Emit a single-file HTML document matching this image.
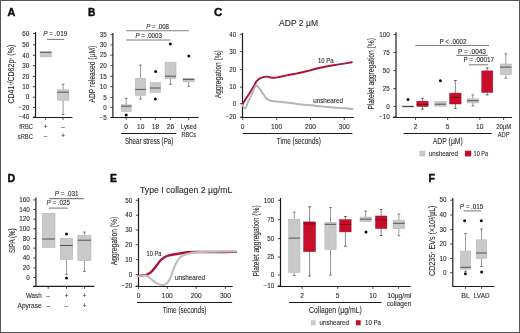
<!DOCTYPE html>
<html><head><meta charset="utf-8"><style>
html,body{margin:0;padding:0;background:#fff;}
body{width:520px;height:333px;overflow:hidden;}
svg{display:block;will-change:transform;font-family:"Liberation Sans",sans-serif;fill:#2a2a2a;}
text{stroke:#2a2a2a;stroke-width:0.1px;}
text[font-weight=bold]{stroke:#111;stroke-width:0.45px;}
</style></head><body>
<svg width="520" height="333" viewBox="0 0 520 333">
<defs><filter id="bl" x="0" y="0" width="1" height="1"><feGaussianBlur stdDeviation="0.35"/></filter></defs>
<rect x="0" y="0" width="520" height="333" fill="#fff"/>
<g filter="url(#bl)">
<text x="7.4" y="15.87" font-size="10.2" textLength="7.8" lengthAdjust="spacingAndGlyphs" font-weight="bold" fill="#111">A</text>
<text transform="translate(10.9,74.15) rotate(-90)" x="-29.45" y="2.9" font-size="8.8" textLength="58.9" lengthAdjust="spacingAndGlyphs">CD41<tspan baseline-shift="super" font-size="4.5">+</tspan>/CD62p<tspan baseline-shift="super" font-size="4.5">+</tspan> (%)</text>
<line x1="35.5" y1="32" x2="35.5" y2="117.6" stroke="#1e1e1e" stroke-width="1.2"/>
<line x1="32.9" y1="33.5" x2="35.5" y2="33.5" stroke="#1e1e1e" stroke-width="0.8"/>
<text x="29.3" y="35.77" font-size="6.3" text-anchor="end">60</text>
<line x1="32.9" y1="44.8" x2="35.5" y2="44.8" stroke="#1e1e1e" stroke-width="0.8"/>
<text x="29.3" y="47.07" font-size="6.3" text-anchor="end">50</text>
<line x1="32.9" y1="55.3" x2="35.5" y2="55.3" stroke="#1e1e1e" stroke-width="0.8"/>
<text x="29.3" y="57.57" font-size="6.3" text-anchor="end">40</text>
<line x1="32.9" y1="65.7" x2="35.5" y2="65.7" stroke="#1e1e1e" stroke-width="0.8"/>
<text x="29.3" y="67.97" font-size="6.3" text-anchor="end">30</text>
<line x1="32.9" y1="76.4" x2="35.5" y2="76.4" stroke="#1e1e1e" stroke-width="0.8"/>
<text x="29.3" y="78.67" font-size="6.3" text-anchor="end">20</text>
<line x1="32.9" y1="86.7" x2="35.5" y2="86.7" stroke="#1e1e1e" stroke-width="0.8"/>
<text x="29.3" y="88.97" font-size="6.3" text-anchor="end">10</text>
<line x1="32.9" y1="97.2" x2="35.5" y2="97.2" stroke="#1e1e1e" stroke-width="0.8"/>
<text x="29.3" y="99.47" font-size="6.3" text-anchor="end">0</text>
<line x1="32.9" y1="107.4" x2="35.5" y2="107.4" stroke="#1e1e1e" stroke-width="0.8"/>
<text x="29.3" y="109.67" font-size="6.3" text-anchor="end">−20</text>
<line x1="32.9" y1="117" x2="35.5" y2="117" stroke="#1e1e1e" stroke-width="0.8"/>
<text x="29.3" y="119.27" font-size="6.3" text-anchor="end">−40</text>
<line x1="33" y1="117.5" x2="72.5" y2="117.5" stroke="#1e1e1e" stroke-width="1.2"/>
<line x1="45.6" y1="117.5" x2="45.6" y2="119.9" stroke="#1e1e1e" stroke-width="0.8"/>
<line x1="63" y1="117.5" x2="63" y2="119.9" stroke="#1e1e1e" stroke-width="0.8"/>
<rect x="40.1" y="51.6" width="11.3" height="5.3" fill="#c9c9c9" stroke="#b0b0b0" stroke-width="0.5"/>
<line x1="40.1" y1="52.3" x2="51.4" y2="52.3" stroke="#3c3c3c" stroke-width="0.85"/>
<line x1="63.1" y1="84.3" x2="63.1" y2="89.8" stroke="#555555" stroke-width="0.6"/>
<line x1="61.8" y1="84.3" x2="64.4" y2="84.3" stroke="#555555" stroke-width="0.8"/>
<line x1="63.1" y1="100.2" x2="63.1" y2="114.5" stroke="#555555" stroke-width="0.6"/>
<line x1="61.8" y1="114.5" x2="64.4" y2="114.5" stroke="#555555" stroke-width="0.8"/>
<rect x="57.3" y="89.8" width="11.6" height="10.4" fill="#c9c9c9" stroke="#b0b0b0" stroke-width="0.5"/>
<line x1="57.3" y1="92.2" x2="68.9" y2="92.2" stroke="#3c3c3c" stroke-width="0.85"/>
<text x="43.3" y="36.47" font-size="6.3" textLength="24" lengthAdjust="spacingAndGlyphs"><tspan font-style="italic">P</tspan> = .019</text>
<line x1="47" y1="39.4" x2="64.2" y2="39.4" stroke="#808080" stroke-width="1.1"/>
<text x="19.2" y="129.18" font-size="6.6" textLength="13.7" lengthAdjust="spacingAndGlyphs">fRBC</text>
<text x="17.8" y="138.58" font-size="6.6" textLength="15.1" lengthAdjust="spacingAndGlyphs">sRBC</text>
<text x="45.6" y="129.07" font-size="6.3" text-anchor="middle">+</text>
<text x="63" y="129.07" font-size="6.3" text-anchor="middle">–</text>
<text x="45.6" y="138.47" font-size="6.3" text-anchor="middle">–</text>
<text x="63" y="138.47" font-size="6.3" text-anchor="middle">+</text>
<text x="87.9" y="16.27" font-size="10.2" textLength="7.3" lengthAdjust="spacingAndGlyphs" font-weight="bold" fill="#111">B</text>
<text transform="translate(91.7,74.15) rotate(-90)" x="-28.35" y="2.9" font-size="8.8" textLength="56.7" lengthAdjust="spacingAndGlyphs">ADP released (µM)</text>
<line x1="112.9" y1="33" x2="112.9" y2="118" stroke="#1e1e1e" stroke-width="1.2"/>
<line x1="110.3" y1="34.8" x2="112.9" y2="34.8" stroke="#1e1e1e" stroke-width="0.8"/>
<text x="106.7" y="37.07" font-size="6.3" text-anchor="end">35</text>
<line x1="110.3" y1="44.9" x2="112.9" y2="44.9" stroke="#1e1e1e" stroke-width="0.8"/>
<text x="106.7" y="47.17" font-size="6.3" text-anchor="end">30</text>
<line x1="110.3" y1="55.2" x2="112.9" y2="55.2" stroke="#1e1e1e" stroke-width="0.8"/>
<text x="106.7" y="57.47" font-size="6.3" text-anchor="end">25</text>
<line x1="110.3" y1="65.6" x2="112.9" y2="65.6" stroke="#1e1e1e" stroke-width="0.8"/>
<text x="106.7" y="67.87" font-size="6.3" text-anchor="end">20</text>
<line x1="110.3" y1="76.3" x2="112.9" y2="76.3" stroke="#1e1e1e" stroke-width="0.8"/>
<text x="106.7" y="78.57" font-size="6.3" text-anchor="end">15</text>
<line x1="110.3" y1="86.7" x2="112.9" y2="86.7" stroke="#1e1e1e" stroke-width="0.8"/>
<text x="106.7" y="88.97" font-size="6.3" text-anchor="end">10</text>
<line x1="110.3" y1="97.5" x2="112.9" y2="97.5" stroke="#1e1e1e" stroke-width="0.8"/>
<text x="106.7" y="99.77" font-size="6.3" text-anchor="end">5</text>
<line x1="110.3" y1="107.4" x2="112.9" y2="107.4" stroke="#1e1e1e" stroke-width="0.8"/>
<text x="106.7" y="109.67" font-size="6.3" text-anchor="end">0</text>
<line x1="110.3" y1="117.5" x2="112.9" y2="117.5" stroke="#1e1e1e" stroke-width="0.8"/>
<text x="106.7" y="119.77" font-size="6.3" text-anchor="end">−5</text>
<line x1="110.5" y1="117.5" x2="198.6" y2="117.5" stroke="#1e1e1e" stroke-width="1.2"/>
<line x1="126.2" y1="117.5" x2="126.2" y2="119.9" stroke="#1e1e1e" stroke-width="0.8"/>
<line x1="140.7" y1="117.5" x2="140.7" y2="119.9" stroke="#1e1e1e" stroke-width="0.8"/>
<line x1="155.4" y1="117.5" x2="155.4" y2="119.9" stroke="#1e1e1e" stroke-width="0.8"/>
<line x1="170.4" y1="117.5" x2="170.4" y2="119.9" stroke="#1e1e1e" stroke-width="0.8"/>
<line x1="188.7" y1="117.5" x2="188.7" y2="119.9" stroke="#1e1e1e" stroke-width="0.8"/>
<line x1="126.2" y1="98.3" x2="126.2" y2="104.8" stroke="#555555" stroke-width="0.6"/>
<line x1="124.9" y1="98.3" x2="127.5" y2="98.3" stroke="#555555" stroke-width="0.8"/>
<rect x="121.15" y="104.8" width="10.1" height="6.7" fill="#c9c9c9" stroke="#b0b0b0" stroke-width="0.5"/>
<line x1="121.15" y1="106.2" x2="131.25" y2="106.2" stroke="#3c3c3c" stroke-width="0.85"/>
<circle cx="126.2" cy="115" r="1.5" fill="#111"/>
<line x1="140.5" y1="65.1" x2="140.5" y2="78.3" stroke="#555555" stroke-width="0.6"/>
<line x1="139.2" y1="65.1" x2="141.8" y2="65.1" stroke="#555555" stroke-width="0.8"/>
<line x1="140.5" y1="95.4" x2="140.5" y2="99" stroke="#555555" stroke-width="0.6"/>
<line x1="139.2" y1="99" x2="141.8" y2="99" stroke="#555555" stroke-width="0.8"/>
<rect x="135.3" y="78.3" width="10.4" height="17.1" fill="#c9c9c9" stroke="#b0b0b0" stroke-width="0.5"/>
<line x1="135.3" y1="89.4" x2="145.7" y2="89.4" stroke="#3c3c3c" stroke-width="0.85"/>
<rect x="150" y="82.6" width="10.6" height="9.7" fill="#c9c9c9" stroke="#b0b0b0" stroke-width="0.5"/>
<line x1="150" y1="88" x2="160.6" y2="88" stroke="#3c3c3c" stroke-width="0.85"/>
<circle cx="155.6" cy="71.6" r="1.5" fill="#111"/>
<circle cx="155.3" cy="99" r="1.5" fill="#111"/>
<line x1="170.5" y1="78.6" x2="170.5" y2="84.3" stroke="#555555" stroke-width="0.6"/>
<line x1="169.2" y1="84.3" x2="171.8" y2="84.3" stroke="#555555" stroke-width="0.8"/>
<rect x="165" y="62.2" width="11" height="16.4" fill="#c9c9c9" stroke="#b0b0b0" stroke-width="0.5"/>
<line x1="165" y1="76.2" x2="176" y2="76.2" stroke="#3c3c3c" stroke-width="0.85"/>
<circle cx="170.3" cy="43.9" r="1.5" fill="#111"/>
<line x1="188.6" y1="81.9" x2="188.6" y2="86.3" stroke="#555555" stroke-width="0.6"/>
<line x1="187.3" y1="86.3" x2="189.9" y2="86.3" stroke="#555555" stroke-width="0.8"/>
<rect x="183" y="78.3" width="11.2" height="3.6" fill="#c9c9c9" stroke="#b0b0b0" stroke-width="0.5"/>
<line x1="183" y1="79.4" x2="194.2" y2="79.4" stroke="#3c3c3c" stroke-width="0.85"/>
<circle cx="188.8" cy="55.9" r="1.5" fill="#111"/>
<text x="146.2" y="28.67" font-size="6.3" textLength="22.8" lengthAdjust="spacingAndGlyphs"><tspan font-style="italic">P</tspan> = .008</text>
<line x1="126.3" y1="30.7" x2="188.8" y2="30.7" stroke="#808080" stroke-width="1.1"/>
<text x="135.4" y="37.87" font-size="6.3" textLength="26.4" lengthAdjust="spacingAndGlyphs"><tspan font-style="italic">P</tspan> = .0003</text>
<line x1="126.3" y1="40" x2="170.3" y2="40" stroke="#808080" stroke-width="1.1"/>
<text x="126.2" y="128.88" font-size="6.6" text-anchor="middle">0</text>
<text x="140.7" y="128.88" font-size="6.6" text-anchor="middle">10</text>
<text x="155.4" y="128.88" font-size="6.6" text-anchor="middle">18</text>
<text x="170.4" y="128.88" font-size="6.6" text-anchor="middle">26</text>
<text x="180.8" y="128.88" font-size="6.6" textLength="15.7" lengthAdjust="spacingAndGlyphs">Lysed</text>
<text x="181.5" y="136.88" font-size="6.6" textLength="14.5" lengthAdjust="spacingAndGlyphs">RBCs</text>
<line x1="121" y1="133.5" x2="176.4" y2="133.5" stroke="#1e1e1e" stroke-width="1"/>
<text x="124.9" y="144.24" font-size="9" textLength="48.5" lengthAdjust="spacingAndGlyphs">Shear stress (Pa)</text>
<text x="214.1" y="16.37" font-size="10.2" textLength="8.2" lengthAdjust="spacingAndGlyphs" font-weight="bold" fill="#111">C</text>
<text x="279.1" y="26.35" font-size="8.2" textLength="38.9" lengthAdjust="spacingAndGlyphs">ADP 2 µM</text>
<text transform="translate(218.5,74.2) rotate(-90)" x="-24" y="2.9" font-size="8.8" textLength="48" lengthAdjust="spacingAndGlyphs">Aggregation (%)</text>
<line x1="242.5" y1="33" x2="242.5" y2="117.6" stroke="#1e1e1e" stroke-width="1.2"/>
<line x1="239.9" y1="34.3" x2="242.5" y2="34.3" stroke="#1e1e1e" stroke-width="0.8"/>
<text x="236.3" y="36.57" font-size="6.3" text-anchor="end">40</text>
<line x1="239.9" y1="51.6" x2="242.5" y2="51.6" stroke="#1e1e1e" stroke-width="0.8"/>
<text x="236.3" y="53.87" font-size="6.3" text-anchor="end">30</text>
<line x1="239.9" y1="69.6" x2="242.5" y2="69.6" stroke="#1e1e1e" stroke-width="0.8"/>
<text x="236.3" y="71.87" font-size="6.3" text-anchor="end">20</text>
<line x1="239.9" y1="87.1" x2="242.5" y2="87.1" stroke="#1e1e1e" stroke-width="0.8"/>
<text x="236.3" y="89.37" font-size="6.3" text-anchor="end">10</text>
<line x1="239.9" y1="103.6" x2="242.5" y2="103.6" stroke="#1e1e1e" stroke-width="0.8"/>
<text x="236.3" y="105.87" font-size="6.3" text-anchor="end">0</text>
<line x1="239.9" y1="117.2" x2="242.5" y2="117.2" stroke="#1e1e1e" stroke-width="0.8"/>
<text x="236.3" y="119.47" font-size="6.3" text-anchor="end">−20</text>
<line x1="240.5" y1="117.5" x2="353.8" y2="117.5" stroke="#1e1e1e" stroke-width="1.2"/>
<line x1="242.7" y1="117.5" x2="242.7" y2="119.9" stroke="#1e1e1e" stroke-width="0.8"/>
<line x1="276.6" y1="117.5" x2="276.6" y2="119.9" stroke="#1e1e1e" stroke-width="0.8"/>
<line x1="310.5" y1="117.5" x2="310.5" y2="119.9" stroke="#1e1e1e" stroke-width="0.8"/>
<line x1="344.3" y1="117.5" x2="344.3" y2="119.9" stroke="#1e1e1e" stroke-width="0.8"/>
<text x="242.7" y="128.58" font-size="6.6" text-anchor="middle">0</text>
<text x="276.6" y="128.58" font-size="6.6" text-anchor="middle">100</text>
<text x="310.5" y="128.58" font-size="6.6" text-anchor="middle">200</text>
<text x="344.3" y="128.58" font-size="6.6" text-anchor="middle">300</text>
<line x1="242.7" y1="133.5" x2="352.4" y2="133.5" stroke="#1e1e1e" stroke-width="1"/>
<text x="276.8" y="143.84" font-size="9" textLength="44" lengthAdjust="spacingAndGlyphs">Time (seconds)</text>
<path d="M242.6 104.2 C243.17 103.25 244.82 100.37 246 98.5 C247.18 96.63 248.43 94.98 249.7 93 C250.97 91.02 252.45 88.57 253.6 86.6 C254.75 84.63 255.45 82.62 256.6 81.2 C257.75 79.78 258.93 78.87 260.5 78.1 C262.07 77.33 264.47 76.73 266 76.6 C267.53 76.47 268.33 77.1 269.7 77.3 C271.07 77.5 272.48 77.88 274.2 77.8 C275.92 77.72 277.9 77.2 280 76.8 C282.1 76.4 284.47 75.87 286.8 75.4 C289.13 74.93 291.8 74.43 294 74 C296.2 73.57 297.33 73.42 300 72.8 C302.67 72.18 306.67 71.13 310 70.3 C313.33 69.47 315.83 68.68 320 67.8 C324.17 66.92 329.7 65.92 335 65 C340.3 64.08 349 62.75 351.8 62.3" fill="none" stroke="#ab1238" stroke-width="1.9" stroke-linejoin="round" stroke-linecap="round"/>
<path d="M242.6 105.3 C243.07 105.82 244.47 109.02 245.4 108.4 C246.33 107.78 247.22 103.77 248.2 101.6 C249.18 99.43 250.33 97.5 251.3 95.4 C252.27 93.3 253.18 90.68 254 89 C254.82 87.32 255.53 85.7 256.2 85.3 C256.87 84.9 257.33 85.92 258 86.6 C258.67 87.28 259.32 88.15 260.2 89.4 C261.08 90.65 262.27 92.6 263.3 94.1 C264.33 95.6 265.23 97.33 266.4 98.4 C267.57 99.47 268.87 100.02 270.3 100.5 C271.73 100.98 273.38 101.08 275 101.3 C276.62 101.52 275.83 101.3 280 101.8 C284.17 102.3 293.33 103.55 300 104.3 C306.67 105.05 313.33 105.67 320 106.3 C326.67 106.93 334.6 107.65 340 108.1 C345.4 108.55 350.33 108.85 352.4 109" fill="none" stroke="#b6b6b6" stroke-width="2" stroke-linejoin="round" stroke-linecap="round"/>
<text x="318" y="62.67" font-size="6.3" textLength="15.6" lengthAdjust="spacingAndGlyphs">10 Pa</text>
<text x="313.2" y="102.88" font-size="6.6" textLength="29.8" lengthAdjust="spacingAndGlyphs">unsheared</text>
<text transform="translate(370.8,73.85) rotate(-90)" x="-35.75" y="2.9" font-size="8.8" textLength="71.5" lengthAdjust="spacingAndGlyphs">Platelet aggregation (%)</text>
<line x1="396" y1="32.3" x2="396" y2="117.6" stroke="#1e1e1e" stroke-width="1.2"/>
<line x1="393.4" y1="34.6" x2="396" y2="34.6" stroke="#1e1e1e" stroke-width="0.8"/>
<text x="389.8" y="36.87" font-size="6.3" text-anchor="end">100</text>
<line x1="393.4" y1="52.5" x2="396" y2="52.5" stroke="#1e1e1e" stroke-width="0.8"/>
<text x="389.8" y="54.77" font-size="6.3" text-anchor="end">75</text>
<line x1="393.4" y1="70.6" x2="396" y2="70.6" stroke="#1e1e1e" stroke-width="0.8"/>
<text x="389.8" y="72.87" font-size="6.3" text-anchor="end">50</text>
<line x1="393.4" y1="88.6" x2="396" y2="88.6" stroke="#1e1e1e" stroke-width="0.8"/>
<text x="389.8" y="90.87" font-size="6.3" text-anchor="end">25</text>
<line x1="393.4" y1="106.4" x2="396" y2="106.4" stroke="#1e1e1e" stroke-width="0.8"/>
<text x="389.8" y="108.67" font-size="6.3" text-anchor="end">0</text>
<line x1="393.4" y1="117" x2="396" y2="117" stroke="#1e1e1e" stroke-width="0.8"/>
<text x="389.8" y="119.27" font-size="6.3" text-anchor="end">−10</text>
<line x1="393" y1="117.5" x2="512" y2="117.5" stroke="#1e1e1e" stroke-width="1.2"/>
<line x1="415.5" y1="117.5" x2="415.5" y2="119.9" stroke="#1e1e1e" stroke-width="0.8"/>
<line x1="447.6" y1="117.5" x2="447.6" y2="119.9" stroke="#1e1e1e" stroke-width="0.8"/>
<line x1="479.8" y1="117.5" x2="479.8" y2="119.9" stroke="#1e1e1e" stroke-width="0.8"/>
<line x1="503.6" y1="117.5" x2="503.6" y2="119.9" stroke="#1e1e1e" stroke-width="0.8"/>
<rect x="402.35" y="105.8" width="11.3" height="1.4" fill="#c9c9c9" stroke="#b0b0b0" stroke-width="0.5"/>
<line x1="402.35" y1="106.5" x2="413.65" y2="106.5" stroke="#3c3c3c" stroke-width="0.85"/>
<circle cx="408" cy="99.5" r="1.5" fill="#111"/>
<line x1="422.5" y1="98.3" x2="422.5" y2="101.2" stroke="#4a3035" stroke-width="0.6"/>
<line x1="421.2" y1="98.3" x2="423.8" y2="98.3" stroke="#4a3035" stroke-width="0.8"/>
<line x1="422.5" y1="106.5" x2="422.5" y2="109.2" stroke="#4a3035" stroke-width="0.6"/>
<line x1="421.2" y1="109.2" x2="423.8" y2="109.2" stroke="#4a3035" stroke-width="0.8"/>
<rect x="416.85" y="101.2" width="11.3" height="5.3" fill="#c70a2c" stroke="#9c0b25" stroke-width="0.5"/>
<line x1="416.85" y1="104.5" x2="428.15" y2="104.5" stroke="#5a0a18" stroke-width="0.85"/>
<rect x="434.8" y="101.5" width="11.2" height="4.7" fill="#c9c9c9" stroke="#b0b0b0" stroke-width="0.5"/>
<line x1="434.8" y1="104.2" x2="446" y2="104.2" stroke="#3c3c3c" stroke-width="0.85"/>
<circle cx="440.4" cy="80.7" r="1.5" fill="#111"/>
<line x1="455.4" y1="80.5" x2="455.4" y2="93.1" stroke="#4a3035" stroke-width="0.6"/>
<line x1="454.1" y1="80.5" x2="456.7" y2="80.5" stroke="#4a3035" stroke-width="0.8"/>
<line x1="455.4" y1="104" x2="455.4" y2="108.4" stroke="#4a3035" stroke-width="0.6"/>
<line x1="454.1" y1="108.4" x2="456.7" y2="108.4" stroke="#4a3035" stroke-width="0.8"/>
<rect x="449.75" y="93.1" width="11.3" height="10.9" fill="#c70a2c" stroke="#9c0b25" stroke-width="0.5"/>
<line x1="449.75" y1="97.4" x2="461.05" y2="97.4" stroke="#5a0a18" stroke-width="0.85"/>
<line x1="472.8" y1="94.9" x2="472.8" y2="98.8" stroke="#555555" stroke-width="0.6"/>
<line x1="471.5" y1="94.9" x2="474.1" y2="94.9" stroke="#555555" stroke-width="0.8"/>
<line x1="472.8" y1="102.9" x2="472.8" y2="105.8" stroke="#555555" stroke-width="0.6"/>
<line x1="471.5" y1="105.8" x2="474.1" y2="105.8" stroke="#555555" stroke-width="0.8"/>
<rect x="467.05" y="98.8" width="11.5" height="4.1" fill="#c9c9c9" stroke="#b0b0b0" stroke-width="0.5"/>
<line x1="467.05" y1="100.7" x2="478.55" y2="100.7" stroke="#3c3c3c" stroke-width="0.85"/>
<line x1="487.3" y1="67.8" x2="487.3" y2="70.9" stroke="#4a3035" stroke-width="0.6"/>
<line x1="486" y1="67.8" x2="488.6" y2="67.8" stroke="#4a3035" stroke-width="0.8"/>
<line x1="487.3" y1="92.4" x2="487.3" y2="95" stroke="#4a3035" stroke-width="0.6"/>
<line x1="486" y1="95" x2="488.6" y2="95" stroke="#4a3035" stroke-width="0.8"/>
<rect x="481.8" y="70.9" width="11" height="21.5" fill="#c70a2c" stroke="#9c0b25" stroke-width="0.5"/>
<line x1="505.8" y1="53.8" x2="505.8" y2="64" stroke="#555555" stroke-width="0.6"/>
<line x1="504.5" y1="53.8" x2="507.1" y2="53.8" stroke="#555555" stroke-width="0.8"/>
<line x1="505.8" y1="74.5" x2="505.8" y2="78.2" stroke="#555555" stroke-width="0.6"/>
<line x1="504.5" y1="78.2" x2="507.1" y2="78.2" stroke="#555555" stroke-width="0.8"/>
<rect x="500.2" y="64" width="11.2" height="10.5" fill="#c9c9c9" stroke="#b0b0b0" stroke-width="0.5"/>
<line x1="500.2" y1="67.1" x2="511.4" y2="67.1" stroke="#3c3c3c" stroke-width="0.85"/>
<text x="439.4" y="43.77" font-size="6.3" textLength="27.2" lengthAdjust="spacingAndGlyphs"><tspan>P</tspan> &lt; .0002</text>
<line x1="415.3" y1="45.5" x2="489" y2="45.5" stroke="#808080" stroke-width="1.1"/>
<text x="458.1" y="53.57" font-size="6.3" textLength="27.9" lengthAdjust="spacingAndGlyphs"><tspan>P</tspan> = .0043</text>
<line x1="456.3" y1="55.4" x2="487.8" y2="55.4" stroke="#808080" stroke-width="1.1"/>
<text x="463.5" y="62.47" font-size="6.3" textLength="30.6" lengthAdjust="spacingAndGlyphs"><tspan>P</tspan> = .00017</text>
<line x1="468.8" y1="64.8" x2="488.2" y2="64.8" stroke="#808080" stroke-width="1.1"/>
<text x="415.5" y="128.58" font-size="6.6" text-anchor="middle">2</text>
<text x="447.6" y="128.58" font-size="6.6" text-anchor="middle">5</text>
<text x="479.7" y="128.58" font-size="6.6" text-anchor="middle">10</text>
<text x="496.2" y="128.58" font-size="6.6" textLength="15" lengthAdjust="spacingAndGlyphs">20µM</text>
<text x="497.8" y="136.78" font-size="6.6" textLength="11.8" lengthAdjust="spacingAndGlyphs">ADP</text>
<line x1="403.5" y1="133.5" x2="491.6" y2="133.5" stroke="#1e1e1e" stroke-width="1"/>
<text x="432.8" y="144.44" font-size="9" textLength="30" lengthAdjust="spacingAndGlyphs">ADP (µM)</text>
<rect x="419.4" y="150.7" width="5.9" height="5.7" fill="#c9c9c9"/>
<text x="428.8" y="155.68" font-size="6.6" textLength="29.1" lengthAdjust="spacingAndGlyphs">unsheared</text>
<rect x="465" y="150.7" width="6.2" height="5.7" fill="#c70a2c"/>
<text x="473.6" y="155.68" font-size="6.6" textLength="14.4" lengthAdjust="spacingAndGlyphs">10 Pa</text>
<text x="7.6" y="181.67" font-size="10.2" textLength="7.7" lengthAdjust="spacingAndGlyphs" font-weight="bold" fill="#111">D</text>
<text transform="translate(11.9,240.7) rotate(-90)" x="-12.3" y="2.9" font-size="8.8" textLength="24.6" lengthAdjust="spacingAndGlyphs">SIPA (%)</text>
<line x1="35.9" y1="197.5" x2="35.9" y2="286.6" stroke="#1e1e1e" stroke-width="1.2"/>
<line x1="33.3" y1="199.9" x2="35.9" y2="199.9" stroke="#1e1e1e" stroke-width="0.8"/>
<text x="29.7" y="202.17" font-size="6.3" text-anchor="end">160</text>
<line x1="33.3" y1="209.5" x2="35.9" y2="209.5" stroke="#1e1e1e" stroke-width="0.8"/>
<text x="29.7" y="211.77" font-size="6.3" text-anchor="end">140</text>
<line x1="33.3" y1="219.2" x2="35.9" y2="219.2" stroke="#1e1e1e" stroke-width="0.8"/>
<text x="29.7" y="221.47" font-size="6.3" text-anchor="end">120</text>
<line x1="33.3" y1="228.7" x2="35.9" y2="228.7" stroke="#1e1e1e" stroke-width="0.8"/>
<text x="29.7" y="230.97" font-size="6.3" text-anchor="end">100</text>
<line x1="33.3" y1="238.6" x2="35.9" y2="238.6" stroke="#1e1e1e" stroke-width="0.8"/>
<text x="29.7" y="240.87" font-size="6.3" text-anchor="end">80</text>
<line x1="33.3" y1="248.1" x2="35.9" y2="248.1" stroke="#1e1e1e" stroke-width="0.8"/>
<text x="29.7" y="250.37" font-size="6.3" text-anchor="end">60</text>
<line x1="33.3" y1="258" x2="35.9" y2="258" stroke="#1e1e1e" stroke-width="0.8"/>
<text x="29.7" y="260.27" font-size="6.3" text-anchor="end">40</text>
<line x1="33.3" y1="267.9" x2="35.9" y2="267.9" stroke="#1e1e1e" stroke-width="0.8"/>
<text x="29.7" y="270.17" font-size="6.3" text-anchor="end">20</text>
<line x1="33.3" y1="277.5" x2="35.9" y2="277.5" stroke="#1e1e1e" stroke-width="0.8"/>
<text x="29.7" y="279.77" font-size="6.3" text-anchor="end">0</text>
<line x1="33" y1="286.4" x2="94.3" y2="286.4" stroke="#1e1e1e" stroke-width="1.2"/>
<line x1="48.2" y1="286.4" x2="48.2" y2="288.8" stroke="#1e1e1e" stroke-width="0.8"/>
<line x1="66.5" y1="286.4" x2="66.5" y2="288.8" stroke="#1e1e1e" stroke-width="0.8"/>
<line x1="84.6" y1="286.4" x2="84.6" y2="288.8" stroke="#1e1e1e" stroke-width="0.8"/>
<rect x="42.2" y="213.2" width="12.8" height="34.4" fill="#c9c9c9" stroke="#b0b0b0" stroke-width="0.5"/>
<line x1="42.2" y1="239" x2="55" y2="239" stroke="#3c3c3c" stroke-width="0.85"/>
<line x1="66.5" y1="259.5" x2="66.5" y2="274.4" stroke="#555555" stroke-width="0.6"/>
<line x1="65.2" y1="274.4" x2="67.8" y2="274.4" stroke="#555555" stroke-width="0.8"/>
<rect x="60.25" y="238.2" width="12.5" height="21.3" fill="#c9c9c9" stroke="#b0b0b0" stroke-width="0.5"/>
<line x1="60.25" y1="245.5" x2="72.75" y2="245.5" stroke="#3c3c3c" stroke-width="0.85"/>
<circle cx="66.5" cy="234" r="1.5" fill="#111"/>
<circle cx="66.5" cy="278.1" r="1.5" fill="#111"/>
<line x1="84.4" y1="232.1" x2="84.4" y2="235.4" stroke="#555555" stroke-width="0.6"/>
<line x1="83.1" y1="232.1" x2="85.7" y2="232.1" stroke="#555555" stroke-width="0.8"/>
<line x1="84.4" y1="260.5" x2="84.4" y2="271.4" stroke="#555555" stroke-width="0.6"/>
<line x1="83.1" y1="271.4" x2="85.7" y2="271.4" stroke="#555555" stroke-width="0.8"/>
<rect x="77.8" y="235.4" width="13.2" height="25.1" fill="#c9c9c9" stroke="#b0b0b0" stroke-width="0.5"/>
<line x1="77.8" y1="240.2" x2="91" y2="240.2" stroke="#3c3c3c" stroke-width="0.85"/>
<text x="54.7" y="196.27" font-size="6.3" textLength="23.8" lengthAdjust="spacingAndGlyphs"><tspan font-style="italic">P</tspan> = .031</text>
<line x1="49.1" y1="198.6" x2="83.7" y2="198.6" stroke="#808080" stroke-width="1.1"/>
<text x="46.5" y="205.47" font-size="6.3" textLength="23.4" lengthAdjust="spacingAndGlyphs"><tspan font-style="italic">P</tspan> = .025</text>
<line x1="49.1" y1="208.1" x2="67.7" y2="208.1" stroke="#808080" stroke-width="1.1"/>
<text x="26" y="297.68" font-size="6.6" textLength="15.6" lengthAdjust="spacingAndGlyphs">Wash</text>
<text x="17.5" y="308.08" font-size="6.6" textLength="24.1" lengthAdjust="spacingAndGlyphs">Apyrase</text>
<text x="48.2" y="297.57" font-size="6.3" text-anchor="middle">–</text>
<text x="66.5" y="297.57" font-size="6.3" text-anchor="middle">+</text>
<text x="84.6" y="297.57" font-size="6.3" text-anchor="middle">+</text>
<text x="48.2" y="307.97" font-size="6.3" text-anchor="middle">–</text>
<text x="66.5" y="307.97" font-size="6.3" text-anchor="middle">–</text>
<text x="84.6" y="307.97" font-size="6.3" text-anchor="middle">+</text>
<text x="110" y="181.67" font-size="10.2" textLength="6.9" lengthAdjust="spacingAndGlyphs" font-weight="bold" fill="#111">E</text>
<text x="140" y="192.62" font-size="8.4" textLength="92.2" lengthAdjust="spacingAndGlyphs">Type I collagen 2 µg/mL</text>
<text transform="translate(114.1,241.05) rotate(-90)" x="-24.25" y="2.9" font-size="8.8" textLength="48.5" lengthAdjust="spacingAndGlyphs">Aggregation (%)</text>
<line x1="138.5" y1="198" x2="138.5" y2="286.6" stroke="#1e1e1e" stroke-width="1.2"/>
<line x1="135.9" y1="200.3" x2="138.5" y2="200.3" stroke="#1e1e1e" stroke-width="0.8"/>
<text x="132.3" y="202.57" font-size="6.3" text-anchor="end">50</text>
<line x1="135.9" y1="215.2" x2="138.5" y2="215.2" stroke="#1e1e1e" stroke-width="0.8"/>
<text x="132.3" y="217.47" font-size="6.3" text-anchor="end">40</text>
<line x1="135.9" y1="230.1" x2="138.5" y2="230.1" stroke="#1e1e1e" stroke-width="0.8"/>
<text x="132.3" y="232.37" font-size="6.3" text-anchor="end">30</text>
<line x1="135.9" y1="244.7" x2="138.5" y2="244.7" stroke="#1e1e1e" stroke-width="0.8"/>
<text x="132.3" y="246.97" font-size="6.3" text-anchor="end">20</text>
<line x1="135.9" y1="259.6" x2="138.5" y2="259.6" stroke="#1e1e1e" stroke-width="0.8"/>
<text x="132.3" y="261.87" font-size="6.3" text-anchor="end">10</text>
<line x1="135.9" y1="274.6" x2="138.5" y2="274.6" stroke="#1e1e1e" stroke-width="0.8"/>
<text x="132.3" y="276.87" font-size="6.3" text-anchor="end">0</text>
<line x1="135.9" y1="286.2" x2="138.5" y2="286.2" stroke="#1e1e1e" stroke-width="0.8"/>
<text x="132.3" y="288.47" font-size="6.3" text-anchor="end">−20</text>
<line x1="135.5" y1="286.5" x2="232.7" y2="286.5" stroke="#1e1e1e" stroke-width="1.2"/>
<line x1="138.5" y1="286.5" x2="138.5" y2="288.9" stroke="#1e1e1e" stroke-width="0.8"/>
<line x1="167.3" y1="286.5" x2="167.3" y2="288.9" stroke="#1e1e1e" stroke-width="0.8"/>
<line x1="196.2" y1="286.5" x2="196.2" y2="288.9" stroke="#1e1e1e" stroke-width="0.8"/>
<line x1="225.4" y1="286.5" x2="225.4" y2="288.9" stroke="#1e1e1e" stroke-width="0.8"/>
<text x="138.5" y="297.68" font-size="6.6" text-anchor="middle">0</text>
<text x="167.3" y="297.68" font-size="6.6" text-anchor="middle">100</text>
<text x="196.2" y="297.68" font-size="6.6" text-anchor="middle">200</text>
<text x="225.4" y="297.68" font-size="6.6" text-anchor="middle">300</text>
<line x1="137" y1="302.5" x2="232.2" y2="302.5" stroke="#1e1e1e" stroke-width="1"/>
<text x="162.7" y="313.24" font-size="9" textLength="43.8" lengthAdjust="spacingAndGlyphs">Time (seconds)</text>
<path d="M138.6 276 C139.33 275.87 141.68 275.4 143 275.2 C144.32 275 145.17 275.3 146.5 274.8 C147.83 274.3 149.5 273.5 151 272.2 C152.5 270.9 154 268.87 155.5 267 C157 265.13 158.5 262.63 160 261 C161.5 259.37 163 258.13 164.5 257.2 C166 256.27 167.25 255.9 169 255.4 C170.75 254.9 173 254.57 175 254.2 C177 253.83 178.75 253.52 181 253.2 C183.25 252.88 186 252.5 188.5 252.3 C191 252.1 191.58 252.05 196 252 C200.42 251.95 208.33 252.02 215 252 C221.67 251.98 232.5 251.92 236 251.9" fill="none" stroke="#ab1238" stroke-width="2.4" stroke-linejoin="round" stroke-linecap="round"/>
<path d="M138.6 276.3 C139.33 276.18 141.68 275.72 143 275.6 C144.32 275.48 145.17 275.03 146.5 275.6 C147.83 276.17 149.5 277.83 151 279 C152.5 280.17 154 281.67 155.5 282.6 C157 283.53 158.5 284.25 160 284.6 C161.5 284.95 163.25 285.02 164.5 284.7 C165.75 284.38 166.5 283.9 167.5 282.7 C168.5 281.5 169.5 279.75 170.5 277.5 C171.5 275.25 172.5 271.7 173.5 269.2 C174.5 266.7 175.5 264.37 176.5 262.5 C177.5 260.63 178.25 259.25 179.5 258 C180.75 256.75 182.25 255.8 184 255 C185.75 254.2 188 253.67 190 253.2 C192 252.73 191.83 252.45 196 252.2 C200.17 251.95 208.33 251.83 215 251.7 C221.67 251.57 232.5 251.45 236 251.4" fill="none" stroke="#bcbcbc" stroke-width="2" stroke-linejoin="round" stroke-linecap="round"/>
<text x="146.5" y="255.88" font-size="6.6" textLength="14.9" lengthAdjust="spacingAndGlyphs">10 Pa</text>
<text x="174.9" y="280.18" font-size="6.6" textLength="30.2" lengthAdjust="spacingAndGlyphs">unsheared</text>
<text transform="translate(255.6,241) rotate(-90)" x="-35.6" y="2.9" font-size="8.8" textLength="71.2" lengthAdjust="spacingAndGlyphs">Platelet aggregation (%)</text>
<line x1="280.5" y1="198" x2="280.5" y2="286.6" stroke="#1e1e1e" stroke-width="1.2"/>
<line x1="277.9" y1="200.3" x2="280.5" y2="200.3" stroke="#1e1e1e" stroke-width="0.8"/>
<text x="274.3" y="202.57" font-size="6.3" text-anchor="end">100</text>
<line x1="277.9" y1="219.7" x2="280.5" y2="219.7" stroke="#1e1e1e" stroke-width="0.8"/>
<text x="274.3" y="221.97" font-size="6.3" text-anchor="end">75</text>
<line x1="277.9" y1="238.6" x2="280.5" y2="238.6" stroke="#1e1e1e" stroke-width="0.8"/>
<text x="274.3" y="240.87" font-size="6.3" text-anchor="end">50</text>
<line x1="277.9" y1="257" x2="280.5" y2="257" stroke="#1e1e1e" stroke-width="0.8"/>
<text x="274.3" y="259.27" font-size="6.3" text-anchor="end">25</text>
<line x1="277.9" y1="275" x2="280.5" y2="275" stroke="#1e1e1e" stroke-width="0.8"/>
<text x="274.3" y="277.27" font-size="6.3" text-anchor="end">0</text>
<line x1="277.9" y1="285.8" x2="280.5" y2="285.8" stroke="#1e1e1e" stroke-width="0.8"/>
<text x="274.3" y="288.07" font-size="6.3" text-anchor="end">−10</text>
<line x1="277.5" y1="286.5" x2="410.7" y2="286.5" stroke="#1e1e1e" stroke-width="1.2"/>
<line x1="302.1" y1="286.5" x2="302.1" y2="288.9" stroke="#1e1e1e" stroke-width="0.8"/>
<line x1="337.7" y1="286.5" x2="337.7" y2="288.9" stroke="#1e1e1e" stroke-width="0.8"/>
<line x1="372.8" y1="286.5" x2="372.8" y2="288.9" stroke="#1e1e1e" stroke-width="0.8"/>
<line x1="398.6" y1="286.5" x2="398.6" y2="288.9" stroke="#1e1e1e" stroke-width="0.8"/>
<line x1="294.3" y1="212.2" x2="294.3" y2="219.2" stroke="#555555" stroke-width="0.6"/>
<line x1="293" y1="212.2" x2="295.6" y2="212.2" stroke="#555555" stroke-width="0.8"/>
<line x1="294.3" y1="272.4" x2="294.3" y2="275.5" stroke="#555555" stroke-width="0.6"/>
<line x1="293" y1="275.5" x2="295.6" y2="275.5" stroke="#555555" stroke-width="0.8"/>
<rect x="288.6" y="219.2" width="11.4" height="53.2" fill="#c9c9c9" stroke="#b0b0b0" stroke-width="0.5"/>
<line x1="288.6" y1="238.1" x2="300" y2="238.1" stroke="#3c3c3c" stroke-width="0.85"/>
<line x1="309.6" y1="206.8" x2="309.6" y2="221.9" stroke="#4a3035" stroke-width="0.6"/>
<line x1="308.3" y1="206.8" x2="310.9" y2="206.8" stroke="#4a3035" stroke-width="0.8"/>
<line x1="309.6" y1="251.6" x2="309.6" y2="276" stroke="#4a3035" stroke-width="0.6"/>
<line x1="308.3" y1="276" x2="310.9" y2="276" stroke="#4a3035" stroke-width="0.8"/>
<rect x="303.7" y="221.9" width="11.8" height="29.7" fill="#c70a2c" stroke="#9c0b25" stroke-width="0.5"/>
<line x1="303.7" y1="223.8" x2="315.5" y2="223.8" stroke="#5a0a18" stroke-width="0.85"/>
<line x1="330.5" y1="207.6" x2="330.5" y2="222.4" stroke="#555555" stroke-width="0.6"/>
<line x1="329.2" y1="207.6" x2="331.8" y2="207.6" stroke="#555555" stroke-width="0.8"/>
<line x1="330.5" y1="249.5" x2="330.5" y2="275" stroke="#555555" stroke-width="0.6"/>
<line x1="329.2" y1="275" x2="331.8" y2="275" stroke="#555555" stroke-width="0.8"/>
<rect x="324.85" y="222.4" width="11.3" height="27.1" fill="#c9c9c9" stroke="#b0b0b0" stroke-width="0.5"/>
<line x1="324.85" y1="224.3" x2="336.15" y2="224.3" stroke="#3c3c3c" stroke-width="0.85"/>
<line x1="345.4" y1="216.5" x2="345.4" y2="219.7" stroke="#4a3035" stroke-width="0.6"/>
<line x1="344.1" y1="216.5" x2="346.7" y2="216.5" stroke="#4a3035" stroke-width="0.8"/>
<line x1="345.4" y1="231.9" x2="345.4" y2="246.2" stroke="#4a3035" stroke-width="0.6"/>
<line x1="344.1" y1="246.2" x2="346.7" y2="246.2" stroke="#4a3035" stroke-width="0.8"/>
<rect x="339.7" y="219.7" width="11.4" height="12.2" fill="#c70a2c" stroke="#9c0b25" stroke-width="0.5"/>
<line x1="339.7" y1="224.3" x2="351.1" y2="224.3" stroke="#5a0a18" stroke-width="0.85"/>
<line x1="365.7" y1="211.1" x2="365.7" y2="217" stroke="#555555" stroke-width="0.6"/>
<line x1="364.4" y1="211.1" x2="367" y2="211.1" stroke="#555555" stroke-width="0.8"/>
<rect x="360" y="217" width="11.4" height="4.6" fill="#c9c9c9" stroke="#b0b0b0" stroke-width="0.5"/>
<line x1="360" y1="219.2" x2="371.4" y2="219.2" stroke="#3c3c3c" stroke-width="0.85"/>
<circle cx="366" cy="231.9" r="1.5" fill="#111"/>
<line x1="381.2" y1="209.5" x2="381.2" y2="216" stroke="#4a3035" stroke-width="0.6"/>
<line x1="379.9" y1="209.5" x2="382.5" y2="209.5" stroke="#4a3035" stroke-width="0.8"/>
<line x1="381.2" y1="228.5" x2="381.2" y2="235.5" stroke="#4a3035" stroke-width="0.6"/>
<line x1="379.9" y1="235.5" x2="382.5" y2="235.5" stroke="#4a3035" stroke-width="0.8"/>
<rect x="375.5" y="216" width="11.4" height="12.5" fill="#c70a2c" stroke="#9c0b25" stroke-width="0.5"/>
<line x1="375.5" y1="219.7" x2="386.9" y2="219.7" stroke="#5a0a18" stroke-width="0.85"/>
<line x1="398.9" y1="214.1" x2="398.9" y2="220.2" stroke="#555555" stroke-width="0.6"/>
<line x1="397.6" y1="214.1" x2="400.2" y2="214.1" stroke="#555555" stroke-width="0.8"/>
<line x1="398.9" y1="228.7" x2="398.9" y2="235.8" stroke="#555555" stroke-width="0.6"/>
<line x1="397.6" y1="235.8" x2="400.2" y2="235.8" stroke="#555555" stroke-width="0.8"/>
<rect x="393.1" y="220.2" width="11.6" height="8.5" fill="#c9c9c9" stroke="#b0b0b0" stroke-width="0.5"/>
<line x1="393.1" y1="223.3" x2="404.7" y2="223.3" stroke="#3c3c3c" stroke-width="0.85"/>
<text x="302.1" y="297.58" font-size="6.6" text-anchor="middle">2</text>
<text x="337.7" y="297.58" font-size="6.6" text-anchor="middle">5</text>
<text x="373" y="297.58" font-size="6.6" text-anchor="middle">10</text>
<text x="387.3" y="298.05" font-size="6.8" textLength="24" lengthAdjust="spacingAndGlyphs">10µg/ml</text>
<text x="386.8" y="305.65" font-size="6.8" textLength="24.5" lengthAdjust="spacingAndGlyphs">collagen</text>
<line x1="289" y1="302.5" x2="381.5" y2="302.5" stroke="#1e1e1e" stroke-width="1"/>
<text x="309.1" y="313.24" font-size="9" textLength="52.7" lengthAdjust="spacingAndGlyphs">Collagen (µg/mL)</text>
<rect x="310.9" y="320.2" width="4.8" height="5.1" fill="#c9c9c9"/>
<text x="319.6" y="325.18" font-size="6.6" textLength="29.4" lengthAdjust="spacingAndGlyphs">unsheared</text>
<rect x="355.9" y="320.2" width="4.8" height="5.1" fill="#c70a2c"/>
<text x="365.1" y="325.18" font-size="6.6" textLength="15.8" lengthAdjust="spacingAndGlyphs">10 Pa</text>
<text x="428.4" y="181.97" font-size="10.2" textLength="6.6" lengthAdjust="spacingAndGlyphs" font-weight="bold" fill="#111">F</text>
<text transform="translate(432.4,240.75) rotate(-90)" x="-35.25" y="2.9" font-size="8.8" textLength="70.5" lengthAdjust="spacingAndGlyphs">CD235<tspan baseline-shift="super" font-size="4.5">+</tspan> EVs (×10<tspan baseline-shift="super" font-size="4.5">3</tspan>/µL)</text>
<line x1="452.8" y1="198" x2="452.8" y2="286.6" stroke="#1e1e1e" stroke-width="1.2"/>
<line x1="450.2" y1="200.2" x2="452.8" y2="200.2" stroke="#1e1e1e" stroke-width="0.8"/>
<text x="446.6" y="202.47" font-size="6.3" text-anchor="end">50</text>
<line x1="450.2" y1="215" x2="452.8" y2="215" stroke="#1e1e1e" stroke-width="0.8"/>
<text x="446.6" y="217.27" font-size="6.3" text-anchor="end">40</text>
<line x1="450.2" y1="229.7" x2="452.8" y2="229.7" stroke="#1e1e1e" stroke-width="0.8"/>
<text x="446.6" y="231.97" font-size="6.3" text-anchor="end">30</text>
<line x1="450.2" y1="244" x2="452.8" y2="244" stroke="#1e1e1e" stroke-width="0.8"/>
<text x="446.6" y="246.27" font-size="6.3" text-anchor="end">20</text>
<line x1="450.2" y1="258.4" x2="452.8" y2="258.4" stroke="#1e1e1e" stroke-width="0.8"/>
<text x="446.6" y="260.67" font-size="6.3" text-anchor="end">10</text>
<line x1="450.2" y1="272.7" x2="452.8" y2="272.7" stroke="#1e1e1e" stroke-width="0.8"/>
<text x="446.6" y="274.97" font-size="6.3" text-anchor="end">0</text>
<line x1="452.2" y1="286.5" x2="494.3" y2="286.5" stroke="#1e1e1e" stroke-width="1.2"/>
<line x1="465.5" y1="286.5" x2="465.5" y2="288.9" stroke="#1e1e1e" stroke-width="0.8"/>
<line x1="481.6" y1="286.5" x2="481.6" y2="288.9" stroke="#1e1e1e" stroke-width="0.8"/>
<line x1="465.6" y1="233.5" x2="465.6" y2="251.1" stroke="#555555" stroke-width="0.6"/>
<line x1="464.3" y1="233.5" x2="466.9" y2="233.5" stroke="#555555" stroke-width="0.8"/>
<line x1="465.6" y1="269.2" x2="465.6" y2="271.6" stroke="#555555" stroke-width="0.6"/>
<line x1="464.3" y1="271.6" x2="466.9" y2="271.6" stroke="#555555" stroke-width="0.8"/>
<rect x="460.45" y="251.1" width="10.3" height="18.1" fill="#c9c9c9" stroke="#b0b0b0" stroke-width="0.5"/>
<line x1="460.45" y1="267.3" x2="470.75" y2="267.3" stroke="#3c3c3c" stroke-width="0.85"/>
<circle cx="465.4" cy="273.8" r="1.5" fill="#111"/>
<circle cx="464.6" cy="220.8" r="1.5" fill="#111"/>
<line x1="481.5" y1="229" x2="481.5" y2="239.8" stroke="#555555" stroke-width="0.6"/>
<line x1="480.2" y1="229" x2="482.8" y2="229" stroke="#555555" stroke-width="0.8"/>
<line x1="481.5" y1="258.4" x2="481.5" y2="266.5" stroke="#555555" stroke-width="0.6"/>
<line x1="480.2" y1="266.5" x2="482.8" y2="266.5" stroke="#555555" stroke-width="0.8"/>
<rect x="476.2" y="239.8" width="10.6" height="18.6" fill="#c9c9c9" stroke="#b0b0b0" stroke-width="0.5"/>
<line x1="476.2" y1="253" x2="486.8" y2="253" stroke="#3c3c3c" stroke-width="0.85"/>
<circle cx="481.6" cy="271.9" r="1.5" fill="#111"/>
<circle cx="481.3" cy="220.8" r="1.5" fill="#111"/>
<text x="459.7" y="208.77" font-size="6.3" textLength="23.6" lengthAdjust="spacingAndGlyphs"><tspan font-style="italic">P</tspan> = .015</text>
<line x1="463.7" y1="210.9" x2="481" y2="210.9" stroke="#808080" stroke-width="1.1"/>
<text x="465.5" y="297.92" font-size="7" text-anchor="middle">BL</text>
<text x="473.8" y="297.92" font-size="7" textLength="15.7" lengthAdjust="spacingAndGlyphs">LVAD</text>
</g>
<rect x="0.5" y="0.5" width="519" height="332" fill="none" stroke="#555" stroke-width="1"/>
</svg>
</body></html>
